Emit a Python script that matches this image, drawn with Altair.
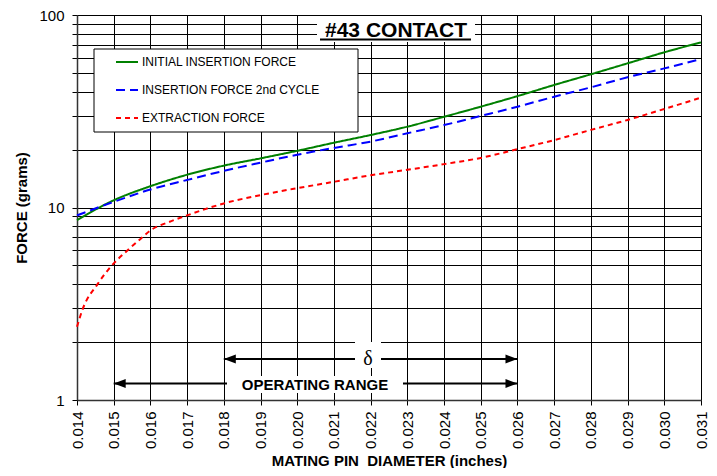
import altair as alt
import pandas as pd

# ---- data ----
diam = [0.014, 0.015, 0.016, 0.017, 0.018, 0.019, 0.020, 0.021, 0.022,
        0.023, 0.024, 0.025, 0.026, 0.027, 0.028, 0.029, 0.030, 0.031]
initial = [8.6, 10.9, 12.9, 14.8, 16.5, 18.0, 19.7, 21.7, 23.8,
           26.3, 29.6, 33.4, 37.9, 43.3, 49.2, 56.1, 64.0, 72.1]
second = [9.1, 10.7, 12.4, 13.9, 15.5, 17.1, 18.8, 20.4, 22.0,
          24.3, 26.8, 29.9, 33.4, 37.6, 42.1, 47.5, 52.8, 59.1]
red_diam = [0.014, 0.01415, 0.01456, 0.01495, 0.01538, 0.01578, 0.016, 0.0165,
            0.017, 0.018, 0.019, 0.020, 0.021, 0.022, 0.023, 0.024, 0.025,
            0.026, 0.027, 0.028, 0.029, 0.030, 0.031]
extraction = [2.4, 2.95, 4.0, 5.0, 6.0, 7.0, 7.6, 8.4,
              9.1, 10.5, 11.6, 12.6, 13.6, 14.7, 15.7, 16.8, 18.1,
              20.1, 22.4, 25.3, 28.5, 32.5, 37.2]

series_names = ["INITIAL INSERTION FORCE", "INSERTION FORCE 2nd CYCLE", "EXTRACTION FORCE"]
series_colors = ["#008000", "#0000ff", "#ff0000"]
series_dash = [[1, 0], [9, 5], [5, 4]]

x_ticks = diam
y_ticks = [1, 2, 3, 4, 5, 6, 7, 8, 9, 10, 20, 30, 40, 50, 60, 70, 80, 90, 100]

# arrows: (start, end, y)
arrow_start = [0.018, 0.015]
arrow_end = [0.026, 0.026]
arrow_y = [1.633, 1.218]

FONT = "Liberation Sans"

rows = []
for x, v in zip(diam, initial):
    rows.append({"d": x, "f": v, "s": series_names[0]})
for x, v in zip(diam, second):
    rows.append({"d": x, "f": v, "s": series_names[1]})
for x, v in zip(red_diam, extraction):
    rows.append({"d": x, "f": v, "s": series_names[2]})
df = pd.DataFrame(rows)

arrows = pd.DataFrame({"x1": arrow_start, "x2": arrow_end, "y": arrow_y})
one = pd.DataFrame({"a": [0]})

xscale = alt.Scale(domain=[0.014, 0.031], nice=False, zero=False)
yscale = alt.Scale(type="log", domain=[1, 100], nice=False)

xaxis = alt.Axis(values=x_ticks, format=".3f", labelAngle=-90, labelFontSize=15,
                 labelPadding=6, tickSize=5, tickColor="#000", grid=True,
                 gridColor="#000", gridOpacity=1, gridWidth=1,
                 domainColor="#333", domainWidth=1.5, labelColor="#000",
                 title="MATING PIN\u00a0 DIAMETER (inches)", titleFontSize=15,
                 titleFontWeight="bold", titlePadding=5, titleColor="#000",
                 labelOverlap=False, labelFont=FONT, titleFont=FONT)
yaxis = alt.Axis(values=y_ticks, format="d",
                 labelExpr="(datum.value == 1 || datum.value == 10 || datum.value == 100) ? datum.label : ''",
                 labelFontSize=15, labelPadding=8, tickSize=5, tickColor="#000",
                 grid=True, gridColor="#000", gridOpacity=1, gridWidth=1,
                 domainColor="#333", domainWidth=1.5, labelColor="#000",
                 title="FORCE (grams)", titleFontSize=15, titleFontWeight="bold",
                 titlePadding=9, titleColor="#000", labelOverlap=False,
                 labelFont=FONT, titleFont=FONT)

legend = alt.Legend(orient="none", legendX=38, legendY=35, title=None,
                    symbolType="stroke", symbolSize=484, symbolStrokeWidth=2,
                    labelFontSize=12, labelFont=FONT, labelColor="#000",
                    labelOffset=3, rowPadding=10, padding=0, labelLimit=400)

lines = alt.Chart(df).mark_line(strokeWidth=2, interpolate="monotone").encode(
    x=alt.X("d:Q", scale=xscale, axis=xaxis),
    y=alt.Y("f:Q", scale=yscale, axis=yaxis),
    color=alt.Color("s:N", scale=alt.Scale(domain=series_names, range=series_colors), legend=legend),
    strokeDash=alt.StrokeDash("s:N", scale=alt.Scale(domain=series_names, range=series_dash), legend=legend),
    order=alt.Order("d:Q"),
)

legend_box = alt.Chart(one).mark_rect(fill="white", stroke="black", strokeWidth=1).encode(
    x=alt.value(17), x2=alt.value(281), y=alt.value(34), y2=alt.value(117))

title_box = alt.Chart(one).mark_rect(fill="white").encode(
    x=alt.value(240), x2=alt.value(398), y=alt.value(1), y2=alt.value(27))
title_text = alt.Chart(one).mark_text(text="#43 CONTACT", font=FONT, fontSize=21,
                                      fontWeight="bold", color="#000", align="center",
                                      baseline="alphabetic").encode(
    x=alt.value(319), y=alt.value(22))
title_ul = alt.Chart(one).mark_rule(color="#000", strokeWidth=2).encode(
    x=alt.value(243), x2=alt.value(394), y=alt.value(24.5))

ax_x1 = alt.X("x1:Q", scale=xscale, axis=xaxis)
ax_x2 = alt.X2("x2:Q")
ax_y = alt.Y("y:Q", scale=yscale, axis=yaxis)

arrow_lines = alt.Chart(arrows).mark_rule(color="#000", strokeWidth=2).encode(
    x=ax_x1, x2=ax_x2, y=ax_y)
heads_left = alt.Chart(arrows).mark_point(shape="M-1,0L1,-0.75L1,0.75Z", size=144,
                                          filled=True, color="#000", opacity=1,
                                          xOffset=6).encode(x=ax_x1, y=ax_y)
heads_right = alt.Chart(arrows).mark_point(shape="M1,0L-1,-0.75L-1,0.75Z", size=144,
                                           filled=True, color="#000", opacity=1,
                                           xOffset=-6).encode(
    x=alt.X("x2:Q", scale=xscale, axis=xaxis), y=ax_y)

op_box = alt.Chart(one).mark_rect(fill="white").encode(
    x=alt.value(150), x2=alt.value(326), y=alt.value(361), y2=alt.value(378))
op_text = alt.Chart(one).mark_text(text="OPERATING RANGE", font=FONT, fontSize=15,
                                   fontWeight="bold", color="#000", align="center",
                                   baseline="alphabetic").encode(
    x=alt.value(238), y=alt.value(375))
delta_box = alt.Chart(one).mark_rect(fill="white").encode(
    x=alt.value(278), x2=alt.value(304), y=alt.value(327), y2=alt.value(353))
delta_text = alt.Chart(one).mark_text(text="δ", font="Liberation Serif", fontSize=20,
                                      color="#000", align="center",
                                      baseline="alphabetic").encode(
    x=alt.value(291), y=alt.value(350))

chart = alt.layer(
    lines, legend_box, arrow_lines, heads_left, heads_right,
    op_box, op_text, delta_box, delta_text, title_box, title_text, title_ul
).properties(
    width=624, height=385,
    autosize=alt.AutoSizeParams(type="none"),
    padding={"left": 69, "top": 7, "right": 8, "bottom": 68},
).configure_view(stroke="#333", strokeWidth=1).configure(background="white")

chart.save("out.html", embed_options={"renderer": "svg", "actions": False})
